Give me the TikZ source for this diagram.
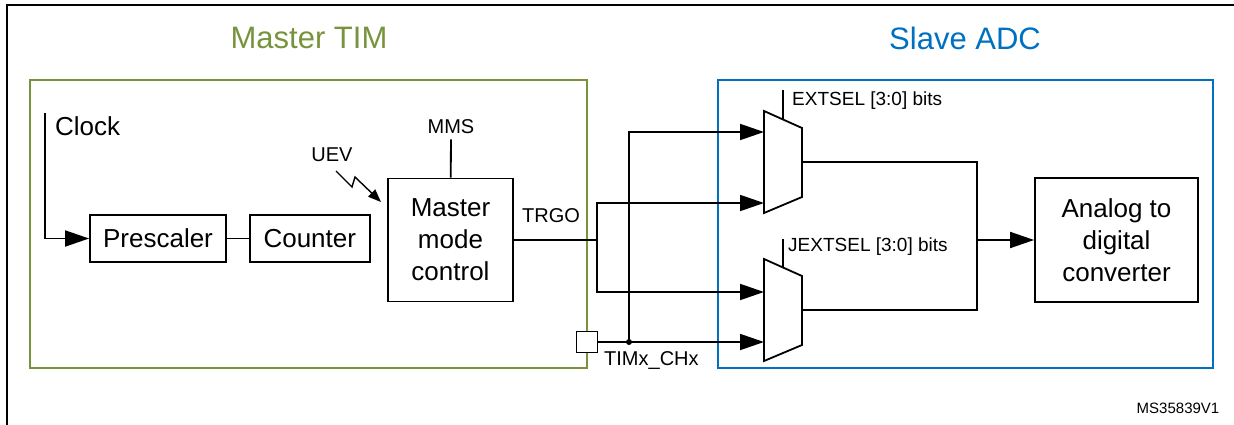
\documentclass[tikz,border=0pt]{standalone}
\usepackage{fontspec}
\setmainfont{Liberation Sans}
\usetikzlibrary{arrows.meta, positioning}
\definecolor{timgreen}{RGB}{119,147,60}
\definecolor{adcblue}{RGB}{0,112,192}
\tikzset{
  block/.style={rectangle,draw,line width=1.8pt,align=center,inner sep=2pt,font=\fontsize{26}{32}\selectfont},
  group/.style={rectangle,draw,line width=1.6pt,inner sep=0pt},
  title/.style={font=\fontsize{31}{37}\selectfont},
  lbl/.style={font=\fontsize{20}{24}\selectfont,inner sep=1pt},
  sel/.style={font=\fontsize{19}{23}\selectfont,inner sep=0pt,anchor=west},
  wire/.style={line width=1.8pt},
  line/.style={wire,-{Triangle[length=24pt,width=16pt]}},
  bolt/.style={line width=1.4pt,-{Triangle[length=13pt,width=10pt]}},
  mux/.style={draw,line width=1.8pt,line join=miter}
}

\begin{document}
\begin{tikzpicture}[x=1pt,y=-1pt]
\useasboundingbox (0,0) rectangle (1234,425);
\draw[wire] (7,425) -- (7,5) -- (1234,5);

\node[group,draw=timgreen,minimum width=557pt,minimum height=288pt] (tim) at (308.5,224) {};
\node[title,text=timgreen] (timtitle) at (309,38) {Master TIM};
\node[block,minimum width=136pt,minimum height=47pt] (pre) at (158,238.5) {Prescaler};
\node[block,minimum width=120pt,minimum height=47pt,right=22pt of pre] (cnt) {Counter};
\node[block,minimum width=125pt,minimum height=123pt] (mmc) at (450.5,240) {Master\\mode\\control};
\coordinate (clk) at (45,113);
\node[font=\fontsize{26}{32}\selectfont,anchor=west,inner sep=0pt] (clktxt) at (55,126) {Clock};
\node[lbl] (mms) at (451,127) {MMS};
\node[lbl] (uev) at (332,155) {UEV};
\node[lbl] (trgo) at (551,216) {TRGO};
\node[draw,fill=white,line width=1.8pt,minimum size=21pt,inner sep=0pt] (pad) at (587,342) {};
\node[lbl,anchor=west] (chx) at (603,361) {TIMx\_CHx};

\node[group,draw=adcblue,minimum width=495pt,minimum height=288pt] (adc) at (965.5,224) {};
\node[title,text=adcblue] (adctitle) at (965,38) {Slave ADC};
\node[block,minimum width=163pt,minimum height=124pt] (conv) at (1116.5,240) {Analog to\\digital\\converter};

\draw[mux] (764,111) -- (802,128) -- (802,197) -- (764,213) -- cycle;
\draw[mux] (764,259) -- (802,276) -- (802,345) -- (764,361) -- cycle;
\coordinate (m1a) at (764,132);
\coordinate (m1b) at (764,203);
\coordinate (m1o) at (802,162);
\coordinate (m1s) at (783,119.5);
\coordinate (m2a) at (764,292);
\coordinate (m2b) at (764,342);
\coordinate (m2o) at (802,310);
\coordinate (m2s) at (783,267.5);
\coordinate (split) at (597,240);
\coordinate (tap) at (629,342);
\coordinate (join) at (977,240);
\node[sel] (extsel) at (792,101) {EXTSEL [3:0] bits};
\node[sel] (jextsel) at (788,247) {JEXTSEL [3:0] bits};

\draw[line] (clk) |- (pre);
\draw[wire] (pre) -- (cnt);
\draw[wire,shorten <=4pt] (mms) -- (mmc);
\draw[bolt] (336,171) -- (352,187) -- (355,177) -- (381,202);
\draw[wire] (mmc.east) -- (split);
\draw[line] (split) |- (m1b);
\draw[line] (split) |- (m2a);
\draw[line] (pad) -- (m2b);
\draw[line] (tap) |- (m1a);
\fill (tap) circle (3pt);
\draw[wire] (m1s) -- ++(0,-29);
\draw[wire] (m2s) -- ++(0,-29);
\draw[wire] (m1o) -| (join) |- (m2o);
\draw[line] (join) -- (conv);

\node[font=\fontsize{15}{18}\selectfont] (tag) at (1178,408) {MS35839V1};
\end{tikzpicture}
\end{document}
